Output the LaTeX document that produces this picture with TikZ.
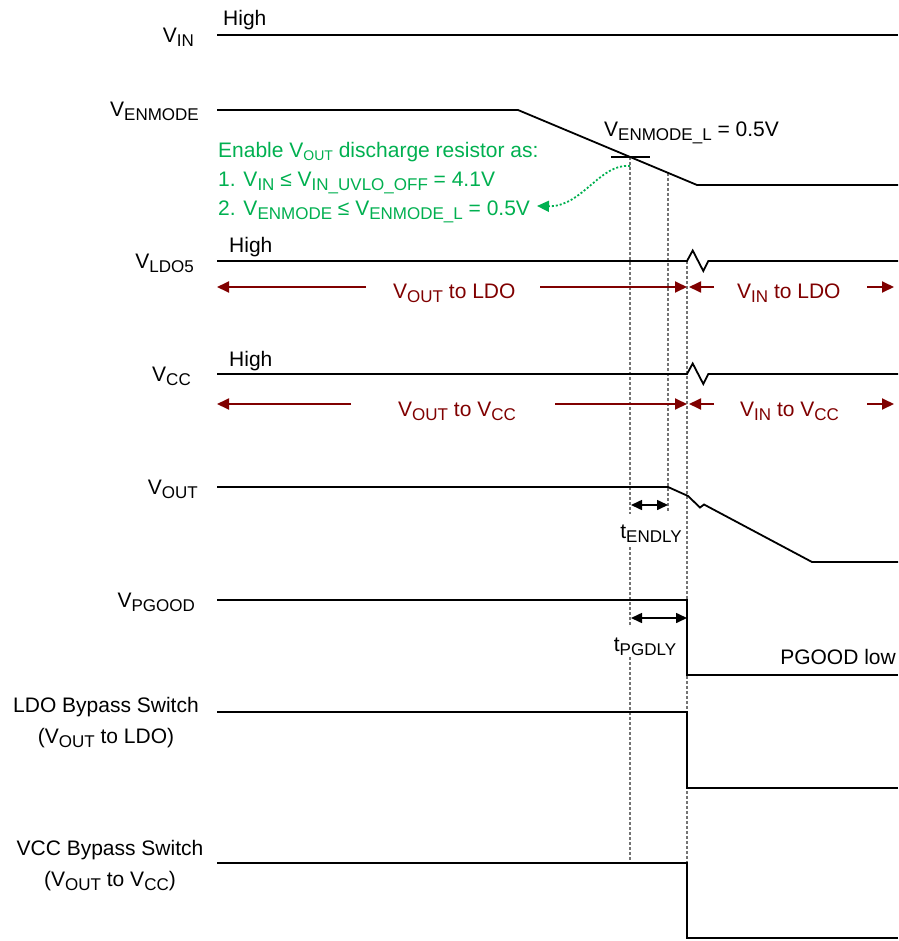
\documentclass[tikz,border=0pt]{standalone}
\usepackage{fontspec}
\setmainfont{Liberation Sans}
\usetikzlibrary{arrows.meta}
\definecolor{dred}{RGB}{128,0,0}
\definecolor{grn}{RGB}{0,176,80}
\definecolor{dgray}{RGB}{115,115,115}
\newcommand{\fsz}{\fontsize{21}{25}\selectfont}
\newcommand{\lsub}[1]{\raisebox{-4pt}{\fontsize{17}{17}\selectfont #1}}
\newcommand{\ssub}[1]{\raisebox{-3pt}{\fontsize{14}{14}\selectfont #1}}
\begin{document}
\begin{tikzpicture}[x=1pt,y=-1pt,
  sig/.style={line width=1.8pt, line join=miter},
  dsh/.style={dgray, line width=1.6pt, dash pattern=on 3pt off 2pt},
  rarr/.style={dred, line width=1.8pt, -{Triangle[length=12pt,width=11pt]}},
  barr/.style={black, line width=1.6pt, {Triangle[length=11pt,width=10pt]}-{Triangle[length=11pt,width=10pt]}},
  txt/.style={inner sep=0pt, font=\fsz},
  gtxt/.style={txt, text=grn, anchor=base west},
  rtxt/.style={txt, text=dred, anchor=base west},
  lab/.style={txt, anchor=base east},
  tlab/.style={txt, fill=white, anchor=base, inner xsep=4pt, inner ysep=1.5pt, text height=23pt, text depth=4.5pt},
  ]
\useasboundingbox[fill=white] (0,0) rectangle (898,941);

% dashed timing guides
\coordinate (d1t) at (630,157); \coordinate (d1b) at (630,862);
\coordinate (d2t) at (668,173); \coordinate (d2b) at (668,511);
\coordinate (d3t) at (687,261); \coordinate (d3b) at (687,937);
\draw[dsh] (d1t) -- (d1b);
\draw[dsh] (d2t) -- (d2b);
\draw[dsh] (d3t) -- (d3b);

% signals
\draw[sig] (217,35) -- (898,35);
\draw[sig] (217,110) -- (518,110) -- (697,185) -- (898,185);
\draw[sig] (611,157) -- (650,157);
\draw[sig] (217,261) -- (687,261) -- (692.7,250.5) -- (703.3,271) -- (708.3,261) -- (898,261);
\draw[sig] (217,374) -- (687,374) -- (692.7,363.5) -- (703.3,384) -- (708.3,374) -- (898,374);
\draw[sig] (217,487) -- (668,487) -- (688,496) -- (700,507.5) -- (704,504.5) -- (812,562) -- (898,562);
\draw[sig] (217,600) -- (687,600) -- (687,675) -- (898,675);
\draw[sig] (217,712) -- (687,712) -- (687,788) -- (898,788);
\draw[sig] (217,863) -- (687,863) -- (687,938) -- (898,938);

% red source arrows
\coordinate (r1a) at (366,287); \coordinate (r1b) at (217,287);
\coordinate (r1c) at (540,287); \coordinate (r1d) at (687,287);
\coordinate (r1e) at (714,287); \coordinate (r1f) at (689,287);
\coordinate (r1g) at (867,287); \coordinate (r1h) at (894,287);
\draw[rarr] (r1a) -- (r1b);
\draw[rarr] (r1c) -- (r1d);
\draw[rarr] (r1e) -- (r1f);
\draw[rarr] (r1g) -- (r1h);
\coordinate (r2a) at (351,404); \coordinate (r2b) at (217,404);
\coordinate (r2c) at (555,404); \coordinate (r2d) at (687,404);
\coordinate (r2e) at (714,404); \coordinate (r2f) at (689,404);
\coordinate (r2g) at (867,404); \coordinate (r2h) at (894,404);
\draw[rarr] (r2a) -- (r2b);
\draw[rarr] (r2c) -- (r2d);
\draw[rarr] (r2e) -- (r2f);
\draw[rarr] (r2g) -- (r2h);
\node[rtxt] (t1) at (393,298) {V\lsub{OUT} to LDO};
\node[rtxt] (t2) at (737,298) {V\lsub{IN} to LDO};
\node[rtxt] (t3) at (398,416) {V\lsub{OUT} to V\lsub{CC}};
\node[rtxt] (t4) at (740,416) {V\lsub{IN} to V\lsub{CC}};

% delay arrows and labels
\coordinate (e1) at (631,505); \coordinate (e2) at (668,505);
\coordinate (p1) at (631,618); \coordinate (p2) at (687,618);
\draw[barr] (e1) -- (e2);
\draw[barr] (p1) -- (p2);
\node[tlab] (tend) at (651,538.5) {t\lsub{ENDLY}};
\node[tlab] (tpg) at (645,651) {t\lsub{PGDLY}};

% left labels
\node[lab] (lvin) at (194,43) {V\lsub{IN}};
\node[lab] (lven) at (199,117) {V\lsub{ENMODE}};
\node[lab] (lldo) at (194,268) {V\lsub{LDO5}};
\node[lab] (lvcc) at (191,381) {V\lsub{CC}};
\node[lab] (lout) at (198,494) {V\lsub{OUT}};
\node[lab] (lpg) at (195,607) {V\lsub{PGOOD}};
\node[txt, anchor=base] (lb1) at (106,712) {LDO Bypass Switch};
\node[txt, anchor=base] (lb2) at (106,743) {(V\lsub{OUT} to LDO)};
\node[txt, anchor=base] (vb1) at (110,855) {VCC Bypass Switch};
\node[txt, anchor=base] (vb2) at (110,886) {(V\lsub{OUT} to V\lsub{CC})};

% other texts
\node[txt, anchor=base west] (h1) at (223,26) {High};
\node[txt, anchor=base west] (h2) at (229,252) {High};
\node[txt, anchor=base west] (h3) at (229,366) {High};
\node[txt, anchor=base west] (vel) at (604,137) {V\lsub{ENMODE\_L} = 0.5V};
\node[txt, anchor=base east] (pgl) at (896,664) {PGOOD low};

% green annotation
\node[gtxt] (g1) at (218,158) {Enable V\ssub{OUT} discharge resistor as:};
\node[gtxt] (g2) at (218,187) {1. V\lsub{IN} ≤ V\lsub{IN\_UVLO\_OFF} = 4.1V};
\node[gtxt] (g3) at (218,215) {2. V\lsub{ENMODE} ≤ V\lsub{ENMODE\_L} = 0.5V};
\coordinate (gs) at (630,166);
\coordinate (ge) at (537,206);
\draw[grn, line width=1.8pt, dash pattern=on 2pt off 2pt, -{Triangle[length=12pt,width=11pt]}]
  (gs) .. controls (600,163) and (582,207) .. (ge);
\end{tikzpicture}
\end{document}
